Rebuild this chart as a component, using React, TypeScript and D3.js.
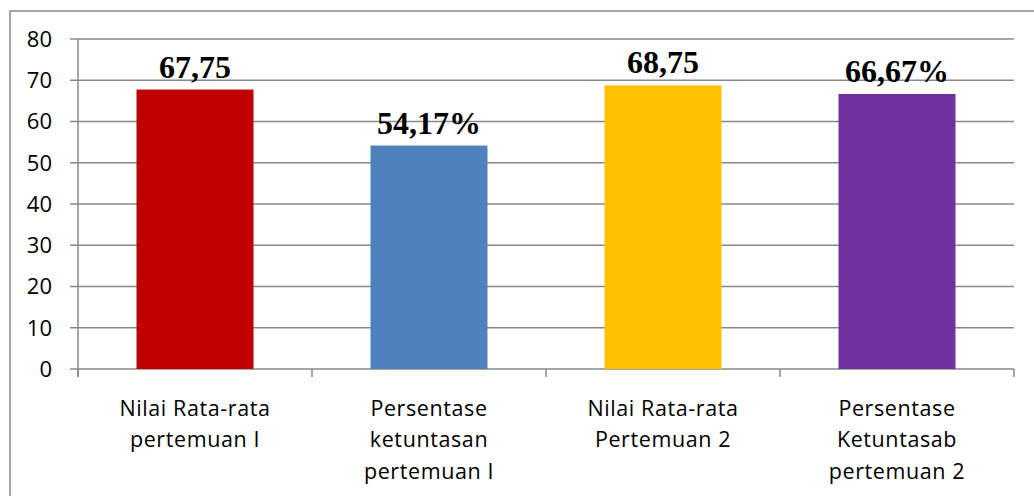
import React from "react";
import * as d3 from "d3";

const categories: string[][] = [
  ["Nilai Rata-rata", "pertemuan I"],
  ["Persentase", "ketuntasan", "pertemuan I"],
  ["Nilai Rata-rata", "Pertemuan 2"],
  ["Persentase", "Ketuntasab", "pertemuan 2"],
];
const values: number[] = [67.75, 54.17, 68.75, 66.67];
const valueLabels: string[] = ["67,75", "54,17%", "68,75", "66,67%"];
const colors: string[] = ["#C00000", "#4F81BD", "#FFC000", "#7030A0"];
const yTicks: number[] = [0, 10, 20, 30, 40, 50, 60, 70, 80];

const W = 1034;
const H = 496;
const left = 78;
const right = 1014;
const top = 39;
const bottom = 369;
const gridColor = "#888888";

export default function App() {
  const keys = categories.map((_, i) => String(i));
  const x = d3.scaleBand<string>().domain(keys).range([left, right]).paddingInner(0.5).paddingOuter(0.25);
  const y = d3.scaleLinear().domain([0, 80]).range([bottom, top]);
  const step = x.step();
  const catTicks = d3.range(categories.length + 1).map((i) => left + i * step);
  const sans = "'Open Sans', 'Noto Sans', sans-serif";

  return (
    <svg
      width={W}
      height={H}
      style={{ position: "absolute", left: 0, top: 0, display: "block", background: "#fff" }}
    >
      <rect x={10} y={11} width={1040} height={500} fill="#fff" stroke={gridColor} strokeWidth={1.5} />
      {yTicks.map((t) => (
        <g key={t}>
          <line x1={70} x2={right} y1={y(t)} y2={y(t)} stroke={gridColor} strokeWidth={1.5} />
          <text
            x={52}
            y={y(t)}
            dy="0.36em"
            textAnchor="end"
            fontFamily={sans}
            fontSize={22}
            fill="#000"
          >
            {t}
          </text>
        </g>
      ))}
      <line x1={left} x2={left} y1={top} y2={bottom + 8} stroke={gridColor} strokeWidth={1.5} />
      {catTicks.map((cx, i) => (
        <line key={i} x1={cx} x2={cx} y1={bottom} y2={bottom + 8} stroke={gridColor} strokeWidth={1.5} />
      ))}
      {values.map((v, i) => {
        const bx = x(String(i)) as number;
        return (
          <g key={i}>
            <rect x={bx} y={y(v)} width={x.bandwidth()} height={y(0) - y(v)} fill={colors[i]} />
            <text
              x={bx + x.bandwidth() / 2}
              y={y(v) - 12}
              textAnchor="middle"
              fontFamily="'Liberation Serif', 'Times New Roman', serif"
              fontWeight="bold"
              fontSize={32}
              fill="#000"
            >
              {valueLabels[i]}
            </text>
            {categories[i].map((line, j) => (
              <text
                key={j}
                x={bx + x.bandwidth() / 2}
                y={415.5 + j * 31.5}
                textAnchor="middle"
                fontFamily={sans}
                fontSize={21.5}
                letterSpacing={0.6}
                fill="#000"
              >
                {line}
              </text>
            ))}
          </g>
        );
      })}
    </svg>
  );
}
